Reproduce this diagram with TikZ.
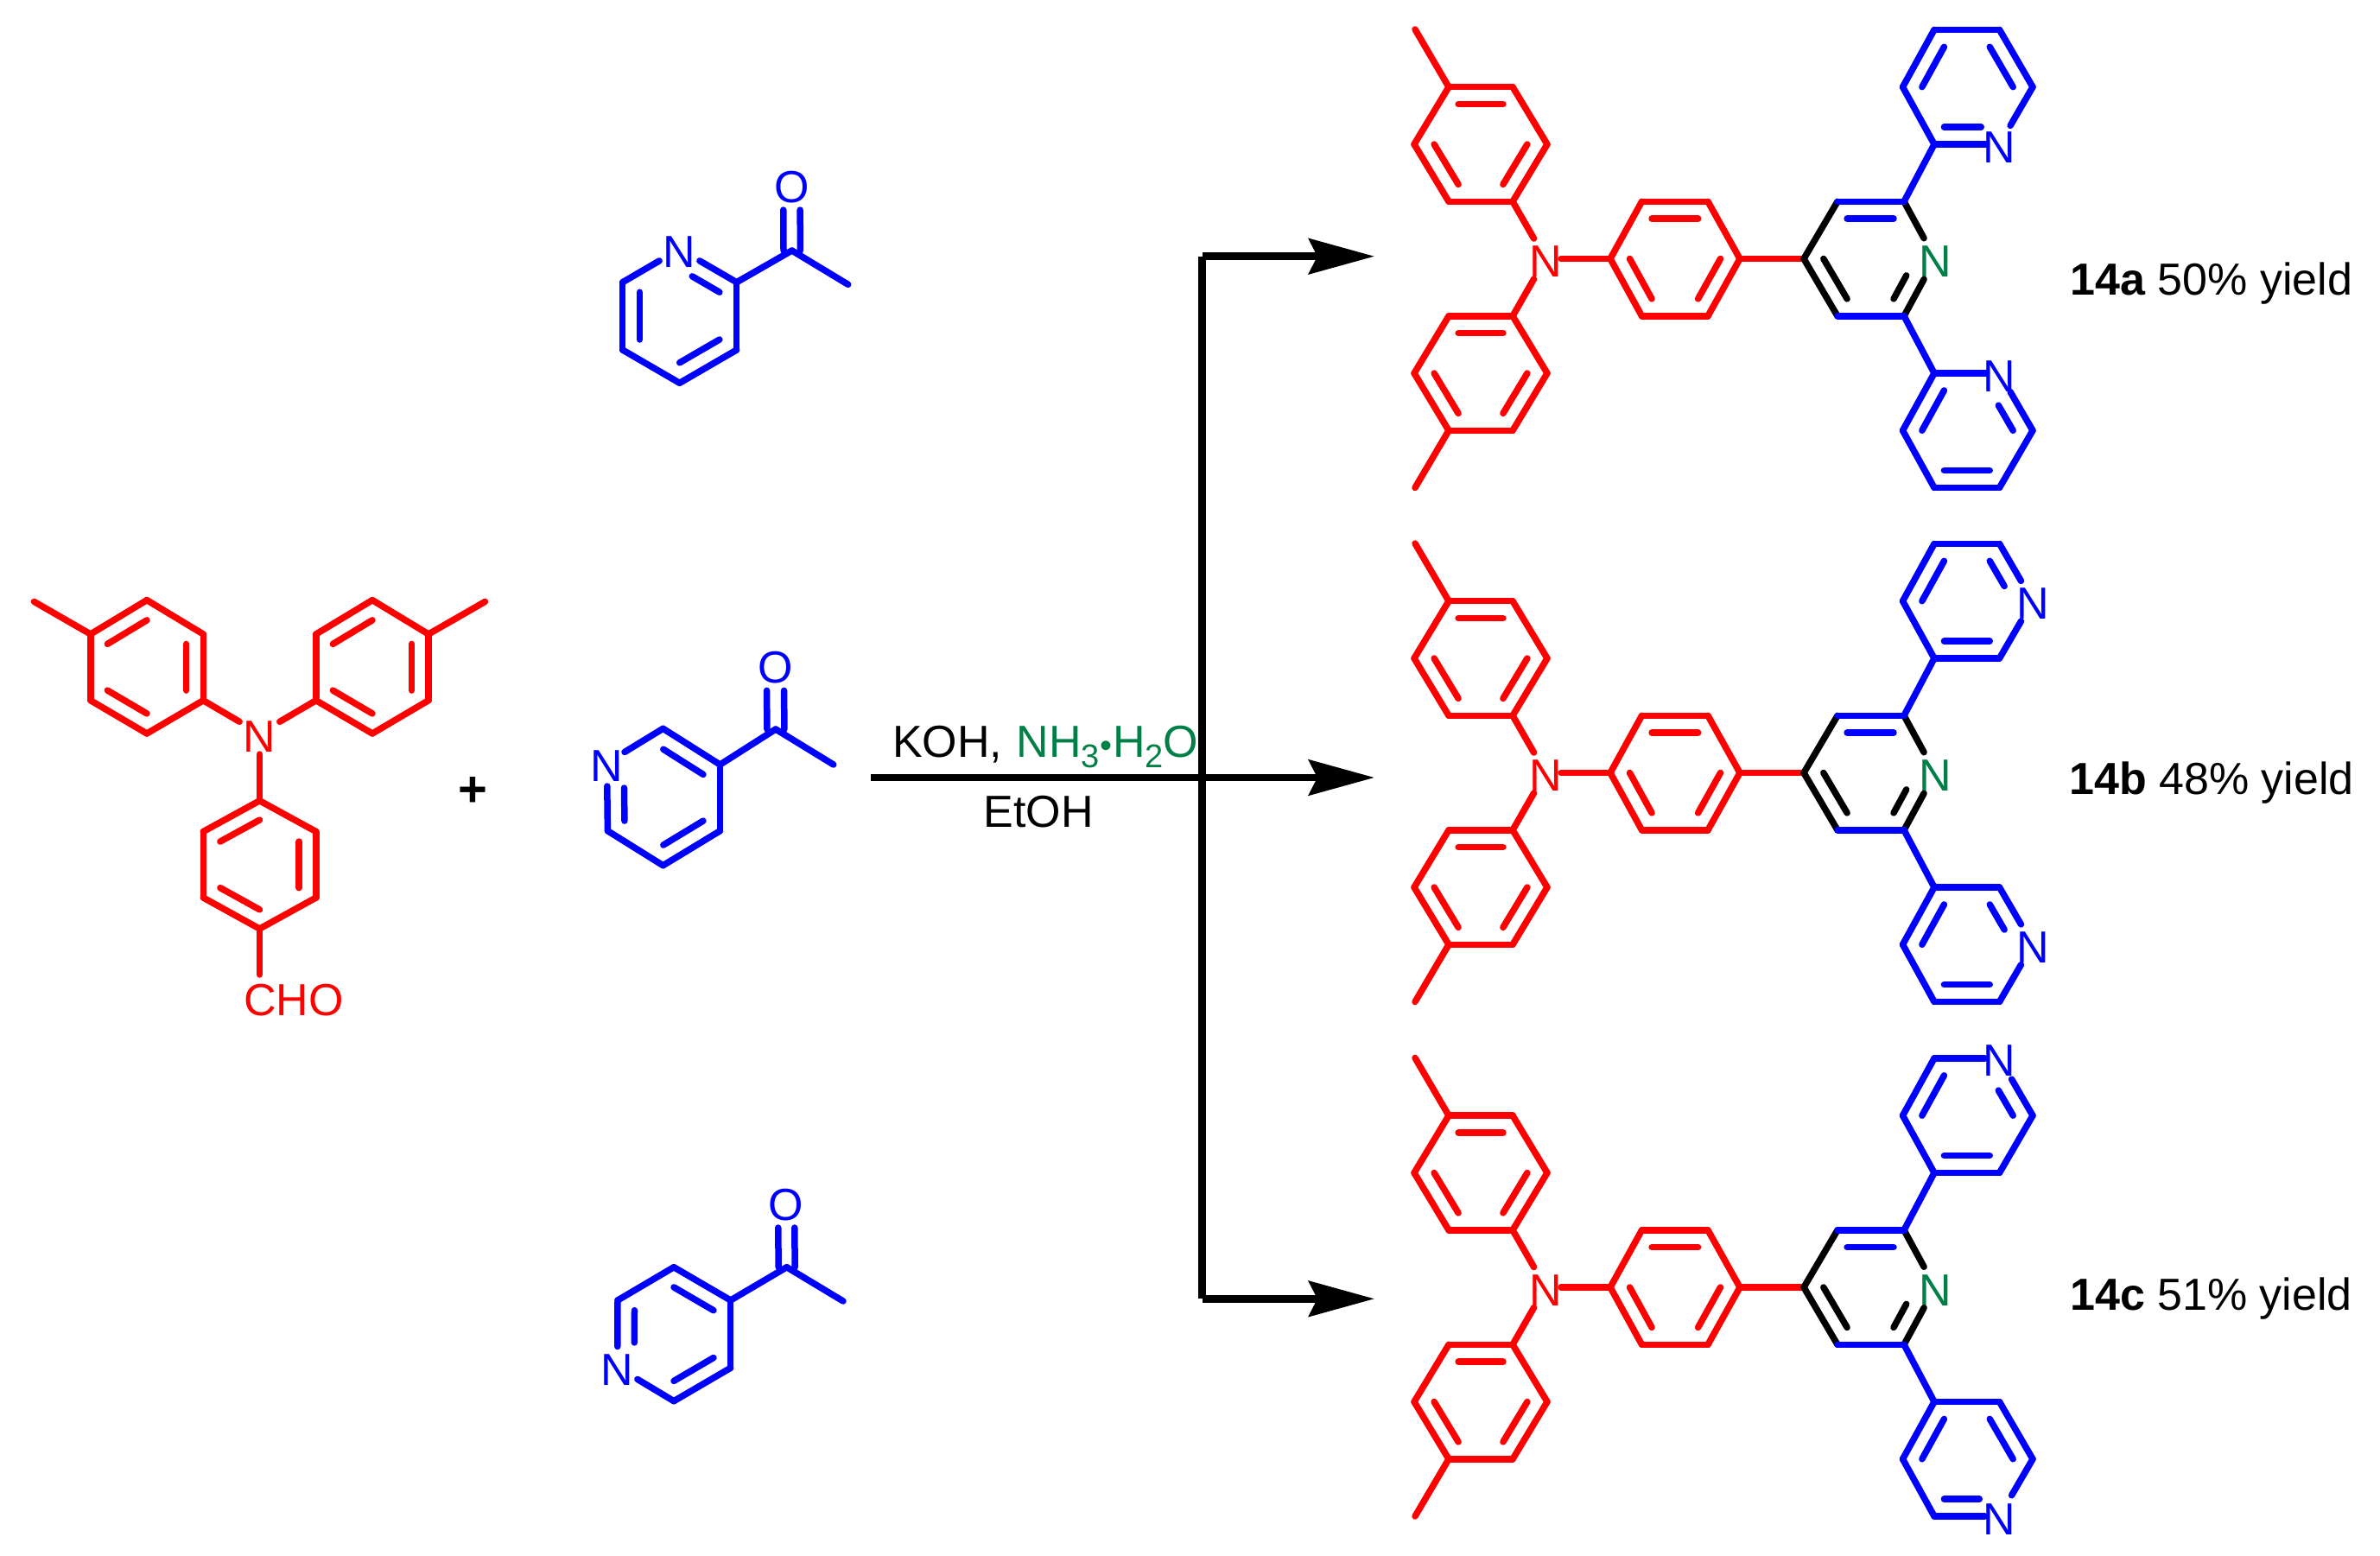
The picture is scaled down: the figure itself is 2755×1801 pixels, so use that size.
\documentclass[tikz,border=0pt]{standalone}
\usepackage{fontspec}
\setmainfont{Liberation Sans}
\usetikzlibrary{calc,arrows.meta}
\definecolor{molgreen}{RGB}{0,128,70}
\tikzset{
  bond/.style={line width=7.5pt,line cap=round,line join=round},
  rb/.style={bond,draw=red},
  bb/.style={bond,draw=blue},
  kb/.style={bond,draw=black},
  lab/.style={inner sep=0pt,font=\fontsize{52}{60}\selectfont},
  rxn/.style={line width=8.5pt,draw=black},
  rxntip/.style={-{Stealth[length=76pt,width=41pt,inset=10pt]}},
}
\newcommand\Nl{\smash{\raisebox{-21pt}{N}}}
\newcommand\Ol{\smash{\raisebox{-18.5pt}{O}}}
\newcommand\bd[3][]{\draw[#1] (#2.center) -- (#3.center);}
\newcommand\inb[4][]{\draw[#1] ($(#4.center)!0.7!(#2.center)$) -- ($(#4.center)!0.7!(#3.center)$);}
\newcommand\productcore[2]{%
\begin{scope}[shift={(0,#2)},name prefix=#1-]
  \coordinate (Ma) at (1638,34);
  \coordinate (T1) at (1677,100.7); \coordinate (T2) at (1751,100.7); \coordinate (T3) at (1791,167);
  \coordinate (T4) at (1751,233.3); \coordinate (T5) at (1677,233.3); \coordinate (T6) at (1637,167); \coordinate (Tc) at (1714,167);
  \coordinate (Mb) at (1638,564.5);
  \coordinate (B1) at (1751,365.8); \coordinate (B2) at (1677,365.8); \coordinate (B3) at (1637,432);
  \coordinate (B4) at (1677,498.3); \coordinate (B5) at (1751,498.3); \coordinate (B6) at (1791,432); \coordinate (Bc) at (1714,432);
  \coordinate (P1) at (1864,299.5); \coordinate (P2) at (1900.5,233.3); \coordinate (P3) at (1977,233.3);
  \coordinate (P4) at (2014,299.5); \coordinate (P5) at (1977,365.8); \coordinate (P6) at (1900.5,365.8); \coordinate (Pc) at (1939,299.5);
  \coordinate (Q4) at (2088,299.5); \coordinate (Q3) at (2127,233.3); \coordinate (Q2) at (2204,233.3);
  \coordinate (Q6) at (2204,365.8); \coordinate (Q5) at (2127,365.8); \coordinate (Qc) at (2164,299.5);
  \coordinate (U1) at (2239,167); \coordinate (U2) at (2202.5,100.7); \coordinate (U3) at (2239,34.4);
  \coordinate (U4) at (2314.5,34.4); \coordinate (U5) at (2353,100.7); \coordinate (U6) at (2314.5,167); \coordinate (Uc) at (2277,100.7);
  \coordinate (L1) at (2239,432); \coordinate (L2) at (2202.5,498.3); \coordinate (L3) at (2239,564.5);
  \coordinate (L4) at (2314.5,564.5); \coordinate (L5) at (2353,498.3); \coordinate (L6) at (2314.5,432); \coordinate (Lc) at (2277,498.3);
  \node[lab,text=red] (NT) at (1789,299.5) {\Nl};
  \node[lab,text=molgreen] (QN) at (2240,299.5) {\Nl};
  % tolyl rings
  \bd[rb]{Ma}{T1}\bd[rb]{T1}{T2}\bd[rb]{T2}{T3}\bd[rb]{T3}{T4}\bd[rb]{T4}{T5}\bd[rb]{T5}{T6}\bd[rb]{T6}{T1}
  \inb[rb]{T1}{T2}{Tc}\inb[rb]{T3}{T4}{Tc}\inb[rb]{T5}{T6}{Tc}
  \bd[rb]{Mb}{B4}\bd[rb]{B1}{B2}\bd[rb]{B2}{B3}\bd[rb]{B3}{B4}\bd[rb]{B4}{B5}\bd[rb]{B5}{B6}\bd[rb]{B6}{B1}
  \inb[rb]{B1}{B2}{Bc}\inb[rb]{B3}{B4}{Bc}\inb[rb]{B5}{B6}{Bc}
  \bd[rb,shorten >=27pt]{T4}{NT}\bd[rb,shorten >=27pt]{B1}{NT}\bd[rb,shorten >=18pt]{P1}{NT}
  % phenylene
  \bd[rb]{P1}{P2}\bd[rb]{P2}{P3}\bd[rb]{P3}{P4}\bd[rb]{P4}{P5}\bd[rb]{P5}{P6}\bd[rb]{P6}{P1}
  \inb[rb]{P2}{P3}{Pc}\inb[rb]{P4}{P5}{Pc}\inb[rb]{P6}{P1}{Pc}
  \bd[rb]{P4}{Q4}
  % central pyridine
  \bd[kb]{Q4}{Q3}\bd[kb]{Q4}{Q5}\bd[kb,shorten >=27pt]{Q2}{QN}\bd[kb,shorten >=27pt]{Q6}{QN}
  \bd[bb]{Q3}{Q2}\bd[bb]{Q5}{Q6}
  \inb[bb]{Q3}{Q2}{Qc}\inb[kb]{Q4}{Q5}{Qc}\inb[kb,shorten >=22pt]{Q6}{QN}{Qc}
  \bd[bb]{Q2}{U1}\bd[bb]{Q6}{L1}
\end{scope}}
\begin{document}
\begin{tikzpicture}[x=1pt,y=-1pt]
\useasboundingbox[fill=white] (0,0) rectangle (2755,1801);

% ---- aldehyde
\coordinate (aMa) at (39.5,696.4); \coordinate (aMb) at (561.5,696.4);
\coordinate (a1) at (170,694.6); \coordinate (a2) at (104.8,734); \coordinate (a3) at (104.8,810.7);
\coordinate (a4) at (170,849); \coordinate (a5) at (235.3,810.7); \coordinate (a6) at (235.3,734); \coordinate (ac) at (170,772);
\coordinate (b1) at (431,694.6); \coordinate (b2) at (365.8,734); \coordinate (b3) at (365.8,810.7);
\coordinate (b4) at (431,849); \coordinate (b5) at (496,810.7); \coordinate (b6) at (496,734); \coordinate (bc) at (431,772);
\coordinate (c1) at (300.5,926.8); \coordinate (c2) at (235.3,962.5); \coordinate (c3) at (235.3,1039);
\coordinate (c4) at (300.5,1075); \coordinate (c5) at (365.8,1039); \coordinate (c6) at (365.8,962.5); \coordinate (cc) at (300.5,1001);
\coordinate (cho) at (300.5,1176);
\node[lab,text=red] (aN) at (300.5,849) {\Nl};
\node[lab,text=red,anchor=base west] (aCHO) at (282,1175) {CHO};
\bd[rb]{aMa}{a2}\bd[rb]{a1}{a2}\bd[rb]{a2}{a3}\bd[rb]{a3}{a4}\bd[rb]{a4}{a5}\bd[rb]{a5}{a6}\bd[rb]{a6}{a1}
\inb[rb]{a1}{a2}{ac}\inb[rb]{a3}{a4}{ac}\inb[rb]{a5}{a6}{ac}
\bd[rb]{aMb}{b6}\bd[rb]{b1}{b2}\bd[rb]{b2}{b3}\bd[rb]{b3}{b4}\bd[rb]{b4}{b5}\bd[rb]{b5}{b6}\bd[rb]{b6}{b1}
\inb[rb]{b1}{b2}{bc}\inb[rb]{b3}{b4}{bc}\inb[rb]{b5}{b6}{bc}
\bd[rb]{c1}{c2}\bd[rb]{c2}{c3}\bd[rb]{c3}{c4}\bd[rb]{c4}{c5}\bd[rb]{c5}{c6}\bd[rb]{c6}{c1}
\inb[rb]{c1}{c2}{cc}\inb[rb]{c3}{c4}{cc}\inb[rb]{c5}{c6}{cc}
\bd[rb,shorten >=27pt]{a5}{aN}\bd[rb,shorten >=27pt]{b3}{aN}\bd[rb,shorten >=24pt]{c1}{aN}
\draw[rb,shorten >=48pt] (c4.center) -- (cho.center);

\node[lab,font=\fontsize{58}{60}\selectfont\bfseries] (plus) at (547.6,916) {+};

% ---- 2-acetylpyridine
\coordinate (d2) at (852.7,326.7); \coordinate (d3) at (852.7,405); \coordinate (d4) at (786.7,443.3);
\coordinate (d5) at (720.7,405); \coordinate (d6) at (720.7,326.7); \coordinate (dc) at (786.7,365);
\coordinate (dC) at (916.7,290); \coordinate (dM) at (981.7,329.3);
\node[lab,text=blue] (dN) at (786.5,288.3) {\Nl};
\node[lab,text=blue] (dO) at (916.3,216) {\Ol};
\bd[bb,shorten >=27pt]{d2}{dN}\bd[bb,shorten >=27pt]{d6}{dN}
\bd[bb]{d2}{d3}\bd[bb]{d3}{d4}\bd[bb]{d4}{d5}\bd[bb]{d5}{d6}
\inb[bb,shorten >=17pt]{d2}{dN}{dc}\inb[bb]{d3}{d4}{dc}\inb[bb]{d5}{d6}{dc}
\bd[bb]{d2}{dC}\bd[bb]{dC}{dM}
\draw[bb,shorten >=27pt] ([xshift=-9.7pt]dC.center) -- ([xshift=-9.7pt]dO.center);
\draw[bb,shorten >=27pt] ([xshift=9.7pt]dC.center) -- ([xshift=9.7pt]dO.center);

% ---- 3-acetylpyridine
\coordinate (e1) at (767.5,843.3); \coordinate (e2) at (833.5,885); \coordinate (e3) at (833.5,961.7);
\coordinate (e4) at (767.5,1001.7); \coordinate (e5) at (703.4,961.7); \coordinate (ec) at (768.5,923);
\coordinate (eC) at (897.9,844); \coordinate (eM) at (964.8,885);
\node[lab,text=blue] (eN) at (702.5,883) {\Nl};
\node[lab,text=blue] (eO) at (897.4,772.3) {\Ol};
\bd[bb,shorten >=24pt]{e1}{eN}\bd[bb,shorten >=27pt]{e5}{eN}
\bd[bb]{e1}{e2}\bd[bb]{e2}{e3}\bd[bb]{e3}{e4}\bd[bb]{e4}{e5}
\inb[bb]{e1}{e2}{ec}\inb[bb]{e3}{e4}{ec}\inb[bb,shorten >=17pt]{e5}{eN}{ec}
\bd[bb]{e2}{eC}\bd[bb]{eC}{eM}
\draw[bb,shorten >=27pt] ([xshift=-10pt]eC.center) -- ([xshift=-10pt]eO.center);
\draw[bb,shorten >=27pt] ([xshift=10pt]eC.center) -- ([xshift=10pt]eO.center);

% ---- 4-acetylpyridine
\coordinate (f1) at (780,1466.7); \coordinate (f2) at (845.7,1505); \coordinate (f3) at (845.7,1583.3);
\coordinate (f4) at (780,1621.7); \coordinate (f6) at (715,1505); \coordinate (fc) at (780,1544);
\coordinate (fC) at (910.7,1466.7); \coordinate (fM) at (976,1506);
\node[lab,text=blue] (fN) at (714.7,1582.5) {\Nl};
\node[lab,text=blue] (fO) at (910,1394) {\Ol};
\bd[bb,shorten >=24pt]{f6}{fN}\bd[bb,shorten >=27pt]{f4}{fN}
\bd[bb]{f1}{f2}\bd[bb]{f2}{f3}\bd[bb]{f3}{f4}\bd[bb]{f6}{f1}
\inb[bb]{f1}{f2}{fc}\inb[bb]{f3}{f4}{fc}\inb[bb,shorten >=17pt]{f6}{fN}{fc}
\bd[bb]{f2}{fC}\bd[bb]{fC}{fM}
\draw[bb,shorten >=27pt] ([xshift=-9.5pt]fC.center) -- ([xshift=-9.5pt]fO.center);
\draw[bb,shorten >=27pt] ([xshift=9.5pt]fC.center) -- ([xshift=9.5pt]fO.center);

% ---- arrows
\coordinate (rs) at (1007.6,900); \coordinate (rj) at (1391.5,900);
\coordinate (ja) at (1391.5,296.7); \coordinate (jc) at (1391.5,1503.3);
\coordinate (ta) at (1591,296.7); \coordinate (tb) at (1591,900); \coordinate (tc) at (1591,1503.3);
\draw[rxn,rxntip] (rs) -- (tb);
\draw[rxn] (ja) -- (jc);
\draw[rxn,rxntip] (ja) -- (ta);
\draw[rxn,rxntip] (jc) -- (tc);
\node[lab,anchor=base west] (cond) at (1033,876.7) {KOH, \hspace{2pt}\textcolor{molgreen}{NH\raisebox{-11.6pt}{\fontsize{38}{40}\selectfont 3}{\fontsize{40}{40}\selectfont •}\hspace{1pt}H\raisebox{-11.6pt}{\fontsize{38}{40}\selectfont 2}O}};
\node[lab,anchor=base] (etoh) at (1202,957.3) {EtOH};

% ---- products
\productcore{pa}{0}
\begin{scope}[name prefix=pa-]
  \node[lab,text=blue] (NU) at (U6.center) {\Nl};
  \node[lab,text=blue] (NL) at (L6.center) {\Nl};
  \bd[bb,shorten >=15pt]{U1}{NU}\bd[bb]{U1}{U2}\bd[bb]{U2}{U3}\bd[bb]{U3}{U4}\bd[bb]{U4}{U5}\bd[bb,shorten >=25pt]{U5}{NU}
  \inb[bb,shorten >=10pt]{U1}{NU}{Uc}\inb[bb]{U2}{U3}{Uc}\inb[bb]{U4}{U5}{Uc}
  \bd[bb,shorten >=15pt]{L1}{NL}\bd[bb]{L1}{L2}\bd[bb]{L2}{L3}\bd[bb]{L3}{L4}\bd[bb]{L4}{L5}\bd[bb,shorten >=25pt]{L5}{NL}
  \inb[bb]{L1}{L2}{Lc}\inb[bb]{L3}{L4}{Lc}\inb[bb,shorten >=20pt]{L5}{NL}{Lc}
\end{scope}
\productcore{pb}{595}
\begin{scope}[shift={(0,595)},name prefix=pb-]
  \node[lab,text=blue] (NU) at (2353,100.7) {\Nl};
  \node[lab,text=blue] (NL) at (2353,498.3) {\Nl};
  \bd[bb]{U1}{U6}\bd[bb]{U1}{U2}\bd[bb]{U2}{U3}\bd[bb]{U3}{U4}\bd[bb,shorten >=27pt]{U4}{NU}\bd[bb,shorten >=27pt]{U6}{NU}
  \inb[bb]{U1}{U6}{Uc}\inb[bb]{U2}{U3}{Uc}\inb[bb,shorten >=20pt]{U4}{NU}{Uc}
  \bd[bb]{L1}{L6}\bd[bb]{L1}{L2}\bd[bb]{L2}{L3}\bd[bb]{L3}{L4}\bd[bb,shorten >=27pt]{L6}{NL}\bd[bb,shorten >=27pt]{L4}{NL}
  \inb[bb]{L1}{L2}{Lc}\inb[bb]{L3}{L4}{Lc}\inb[bb,shorten >=20pt]{L6}{NL}{Lc}
\end{scope}
\productcore{pc}{1190.5}
\begin{scope}[shift={(0,1190.5)},name prefix=pc-]
  \node[lab,text=blue] (NU) at (2314.5,34.4) {\Nl};
  \node[lab,text=blue] (NL) at (2314.5,564.5) {\Nl};
  \bd[bb]{U1}{U6}\bd[bb]{U1}{U2}\bd[bb]{U2}{U3}\bd[bb,shorten >=17pt]{U3}{NU}\bd[bb,shorten >=28pt]{U5}{NU}\bd[bb]{U5}{U6}
  \inb[bb]{U1}{U6}{Uc}\inb[bb]{U2}{U3}{Uc}\inb[bb,shorten >=20pt]{U5}{NU}{Uc}
  \bd[bb]{L1}{L6}\bd[bb]{L1}{L2}\bd[bb]{L2}{L3}\bd[bb,shorten >=17pt]{L3}{NL}\bd[bb,shorten >=28pt]{L5}{NL}\bd[bb]{L6}{L5}
  \inb[bb]{L1}{L2}{Lc}\inb[bb]{L6}{L5}{Lc}\inb[bb,shorten >=12pt]{L3}{NL}{Lc}
\end{scope}

\node[lab,anchor=base west] (ya) at (2396,341.7) {\textbf{14a} 50\% yield};
\node[lab,anchor=base west] (yb) at (2395,919.6) {\textbf{14b} 48\% yield};
\node[lab,anchor=base west] (yc) at (2396,1516.9) {\textbf{14c} 51\% yield};
\end{tikzpicture}
\end{document}
